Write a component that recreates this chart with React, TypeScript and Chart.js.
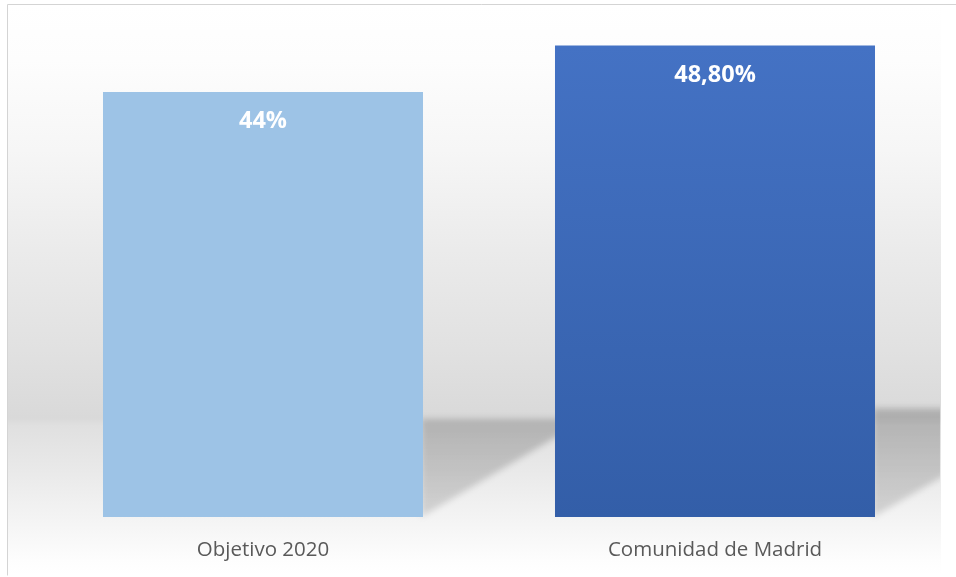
import React, { useEffect, useRef } from "react";
import { Chart, registerables } from "chart.js";

Chart.register(...registerables);

const categories = ["Objetivo 2020", "Comunidad de Madrid"];
const values = [44, 48.8];
const valueLabels = ["44%", "48,80%"];
const yMin = 0;
const yMax = 50;

const LIGHT_BLUE = "#9DC3E6";
const DARK_TOP = "#4472C4";
const DARK_BOTTOM = "#335EA8";

export default function App() {
  const ref = useRef<HTMLCanvasElement>(null);

  useEffect(() => {
    const canvas = ref.current;
    if (!canvas) return;

    const decor = {
      id: "decor",
      beforeDraw(chart: any) {
        const { ctx, chartArea } = chart;
        ctx.save();
        ctx.fillStyle = "#ffffff";
        ctx.fillRect(0, 0, chart.width, chart.height);
        const top = 5;
        const bottom = chart.height - 2;
        const g = ctx.createLinearGradient(0, top, 0, bottom);
        const span = bottom - top;
        const stops: [number, string][] = [
          [5, "#ffffff"],
          [60, "#fdfdfd"],
          [150, "#f6f6f6"],
          [250, "#ebebeb"],
          [350, "#e1e1e1"],
          [418, "#d9d9d9"],
          [426, "#e0e0e0"],
          [470, "#e9e9e9"],
          [520, "#f4f4f4"],
          [560, "#fdfdfd"],
          [bottom, "#ffffff"],
        ];
        stops.forEach(([y, c]) => g.addColorStop(Math.min(1, Math.max(0, (y - top) / span)), c));
        ctx.fillStyle = g;
        ctx.fillRect(8, top, chartArea.right - 8, span);
        ctx.strokeStyle = "#d4d4d4";
        ctx.lineWidth = 1;
        ctx.beginPath();
        ctx.moveTo(7.5, chart.height - 1.5);
        ctx.lineTo(7.5, 4.5);
        ctx.lineTo(chart.width, 4.5);
        ctx.stroke();
        ctx.restore();
      },
      beforeDatasetsDraw(chart: any) {
        const { ctx, chartArea } = chart;
        const meta = chart.getDatasetMeta(0);
        const slope = 0.6;
        ctx.save();
        ctx.beginPath();
        ctx.rect(8, 5, chartArea.right - 9, chart.height - 7);
        ctx.clip();
        ctx.filter = "blur(3px)";
        meta.data.forEach((bar: any) => {
          const p = bar.getProps(["x", "y", "base", "width"], true);
          const right = p.x + p.width / 2;
          const h = p.base - p.y;
          const topS = p.base - 0.23 * h;
          const xCross = right + (p.base - topS) / slope;
          const R = chartArea.right - 1;
          const g = ctx.createLinearGradient(0, topS, 0, p.base);
          g.addColorStop(0, "rgba(0,0,0,0.2)");
          g.addColorStop(1, "rgba(0,0,0,0.13)");
          ctx.fillStyle = g;
          ctx.beginPath();
          ctx.moveTo(right - 2, p.base);
          ctx.lineTo(right - 2, topS);
          if (xCross <= R) {
            ctx.lineTo(xCross, topS);
          } else {
            ctx.lineTo(R + 6, topS);
            ctx.lineTo(R + 6, p.base - slope * (R + 6 - right));
          }
          ctx.closePath();
          ctx.fill();
        });
        ctx.restore();
      },
      afterDatasetsDraw(chart: any) {
        const { ctx } = chart;
        const meta = chart.getDatasetMeta(0);
        ctx.save();
        ctx.fillStyle = "#ffffff";
        ctx.font = "bold 23.5px 'Open Sans', 'Liberation Sans', sans-serif";
        ctx.textAlign = "center";
        ctx.textBaseline = "alphabetic";
        meta.data.forEach((bar: any, i: number) => {
          const p = bar.getProps(["x", "y"], true);
          ctx.fillText(valueLabels[i], p.x, p.y + 36);
        });
        ctx.restore();
      },
    };

    const chart = new Chart(canvas, {
      type: "bar",
      data: {
        labels: categories,
        datasets: [
          {
            data: values,
            backgroundColor: (c: any) => {
              if (c.dataIndex === 0) return LIGHT_BLUE;
              const ch = c.chart;
              const ys = ch.scales && ch.scales.y;
              if (!ys || !ch.chartArea) return DARK_TOP;
              const yTop = ys.getPixelForValue(values[c.dataIndex]);
              const yBase = ys.getPixelForValue(0);
              const g = ch.ctx.createLinearGradient(0, yTop, 0, yBase);
              g.addColorStop(0, DARK_TOP);
              g.addColorStop(1, DARK_BOTTOM);
              return g;
            },
            borderWidth: 0,
            barPercentage: 0.708,
            categoryPercentage: 1,
          },
        ],
      },
      options: {
        responsive: false,
        devicePixelRatio: 1,
        animation: false,
        layout: { padding: { left: 37, right: 15, top: 34, bottom: 0 } },
        plugins: {
          legend: { display: false },
          tooltip: { enabled: false },
          title: { display: false },
        },
        scales: {
          x: {
            grid: { display: false, drawTicks: false },
            border: { display: false },
            afterFit: (scale: any) => {
              scale.height = 60;
            },
            ticks: {
              color: "#595959",
              padding: 21,
              font: { family: "'Open Sans', 'Noto Sans', sans-serif", size: 20.5, lineHeight: 1.2 },
            },
          },
          y: {
            display: false,
            min: yMin,
            max: yMax,
          },
        },
      },
      plugins: [decor],
    });

    return () => chart.destroy();
  }, []);

  return (
    <div style={{ position: "absolute", left: 0, top: 0, width: 956, height: 577 }}>
      <canvas ref={ref} width={956} height={577} style={{ display: "block" }} />
    </div>
  );
}
